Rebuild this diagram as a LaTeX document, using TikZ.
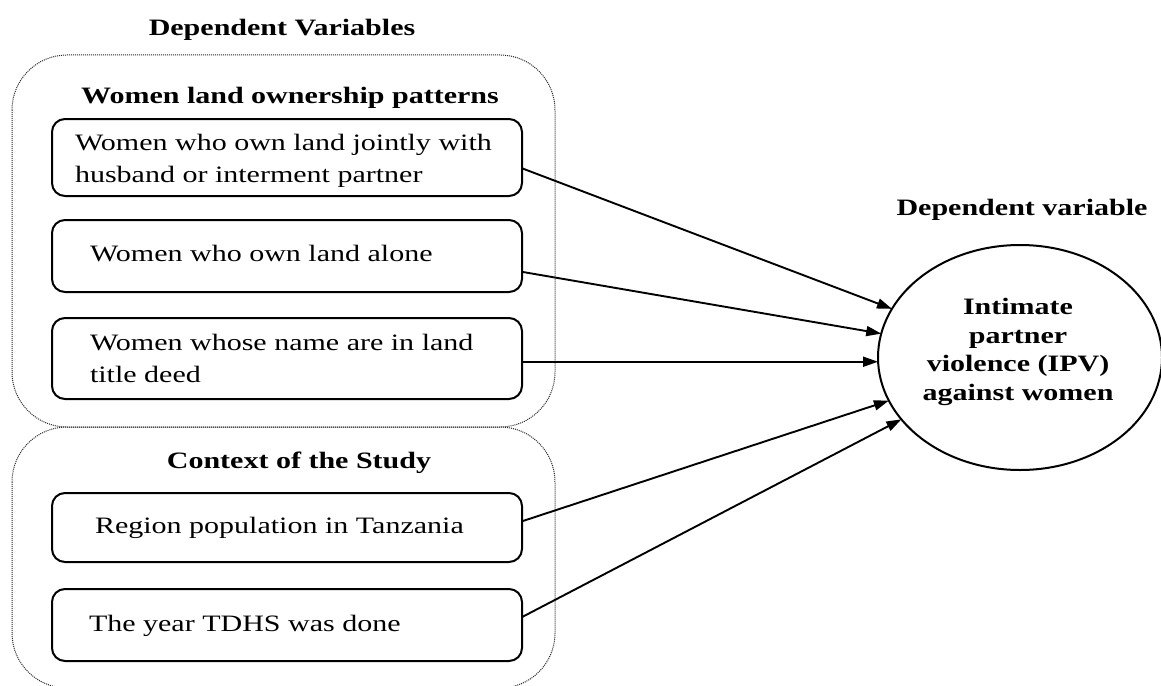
\documentclass[tikz,border=0pt]{standalone}
\usepackage{fontspec}
\setmainfont{Liberation Serif}
\usetikzlibrary{arrows.meta,calc,shapes.geometric}
\begin{document}
\begin{tikzpicture}[x=1pt,y=-1pt,
  every node/.style={inner sep=0pt, outer sep=0pt},
  grp/.style={draw=black!85, line width=1pt, dash pattern=on 1pt off 1pt, rounded corners=55pt},
  vbox/.style={draw, line width=2pt, rounded corners=13pt, minimum width=470pt, anchor=north west},
  txt/.style={xscale=1.277, font=\fontsize{23.5}{32}\selectfont, align=left, anchor=west},
  hdr/.style={xscale=1.277, font=\fontsize{23.5}{28}\selectfont\bfseries, anchor=base},
  arr/.style={line width=1.9pt, -{Triangle[length=15pt,width=10pt]}}
]
\useasboundingbox (0,0) rectangle (1161,685);

% group containers
\draw[grp] (12,55) rectangle (555,427);
\draw[grp] (12,427) rectangle (555,688);

% headers
\node[hdr] (hdep) at (282,36) {Dependent Variables};
\node[hdr] (hwl) at (290,103) {Women land ownership patterns};
\node[hdr] (hctx) at (299,468) {Context of the Study};
\node[hdr] (hdv) at (1022,215) {Dependent variable};

% boxes
\node[vbox, minimum height=77pt] (b1) at (52,119) {};
\node[vbox, minimum height=72pt] (b2) at (52,220) {};
\node[vbox, minimum height=81pt] (b3) at (52,318) {};
\node[vbox, minimum height=69pt] (b4) at (52,493) {};
\node[vbox, minimum height=72pt] (b5) at (52,589) {};

% box texts
\node[txt] (t1) at (75,161) {Women who own land jointly with\\husband or interment partner};
\node[txt] (t2) at (90,254) {Women who own land alone};
\node[txt] (t3) at (90,358) {Women whose name are in land\\title deed};
\node[txt] (t4) at (95,527.5) {Region population in Tanzania};
\node[txt] (t5) at (89,626) {The year TDHS was done};

% outcome
\node[draw, ellipse, line width=2pt, minimum width=284pt, minimum height=225pt] (ell) at (1020,357.5) {};
\node[xscale=1.277, font=\fontsize{23.5}{28.5}\selectfont\bfseries, align=center] (ipv) at (1018,352) {Intimate\\partner\\violence (IPV)\\against women};

% connectors
\coordinate (s1) at ($(b1.north east)!0.64!(b1.south east)$);
\coordinate (s2) at ($(b2.north east)!0.72!(b2.south east)$);
\coordinate (s3) at ($(b3.north east)!0.54!(b3.south east)$);
\coordinate (s4) at ($(b4.north east)!0.41!(b4.south east)$);
\coordinate (s5) at ($(b5.north east)!0.39!(b5.south east)$);
\draw[arr] (s1) -- (ell);
\draw[arr] (s2) -- (ell);
\draw[arr] (s3) -- (s3 -| ell.west);
\draw[arr] (s4) -- (ell);
\draw[arr] (s5) -- (ell);
\end{tikzpicture}
\end{document}
